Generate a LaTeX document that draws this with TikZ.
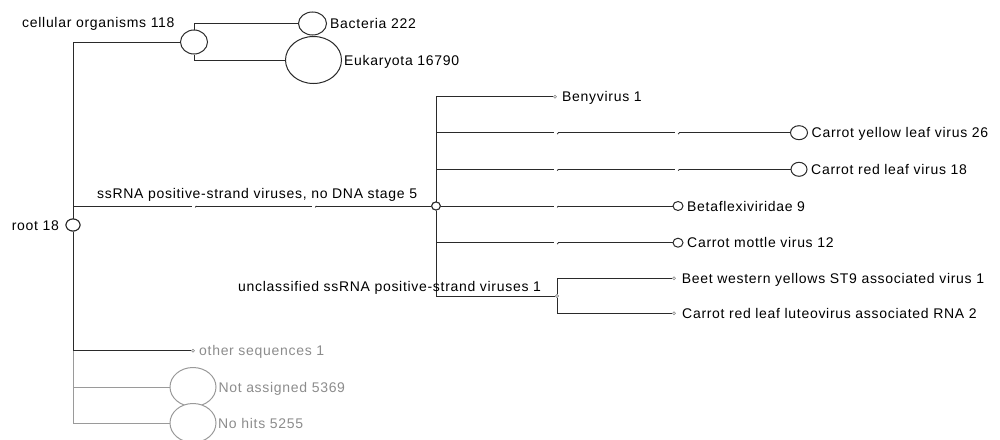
\documentclass[tikz,border=0pt]{standalone}
\usepackage{fontspec}
\setmainfont{Liberation Sans}[LetterSpace=5]
\usetikzlibrary{shapes.geometric}
\definecolor{ln}{HTML}{2A2A2A}
\definecolor{gln}{HTML}{9A9A9A}
\definecolor{gtx}{HTML}{8C8C8C}
\newcommand\lnbreak[2]{%
  \fill[white] (#1-2.2,#2-1.6) rectangle (#1+2.2,#2+1.6);
  \draw[ln,line width=0.8pt] (#1+1.2,#2+1.4) -- (#1+2.4,#2);}
\begin{document}
\begin{tikzpicture}[x=1pt,y=-1pt,
  txt/.style={anchor=base west,inner sep=0pt,font=\fontsize{14}{16}\selectfont},
  gtxt/.style={txt,text=gtx},
  circ/.style={ellipse,draw=ln,line width=1pt,fill=white,inner sep=0pt},
  dotn/.style={circle,draw=gray,line width=0.6pt,fill=white,inner sep=0pt,minimum size=3pt},
  conn/.style={draw=ln,line width=1pt},
  gconn/.style={draw=gln,line width=1pt}]
\useasboundingbox (0,0) rectangle (1000,439);
\clip (0,0) rectangle (1000,439);
% nodes
\node[circ,minimum width=14pt,minimum height=12pt] (root) at (73,225) {};
\node[circ,minimum width=27pt,minimum height=24pt] (cell) at (194,42) {};
\node[circ,minimum width=28pt,minimum height=23pt] (bac) at (312.5,23.5) {};
\node[circ,minimum width=56pt,minimum height=47pt] (euk) at (313.5,60) {};
\node[circ,minimum width=8.6pt,minimum height=8pt] (ss) at (436,206) {};
\node[dotn] (beny) at (555,96.7) {};
\node[circ,minimum width=17pt,minimum height=14pt] (cyl) at (799,132.7) {};
\node[circ,minimum width=16pt,minimum height=14pt] (crl) at (799,169.3) {};
\node[circ,minimum width=10pt,minimum height=9pt] (beta) at (678,206) {};
\node[circ,minimum width=10pt,minimum height=9pt] (cmv) at (678,242.7) {};
\node[dotn] (unc) at (557,296) {};
\node[dotn] (beet) at (674,278.3) {};
\node[dotn] (crlra) at (674,313.3) {};
\node[dotn] (oth) at (193,350.7) {};
\node[circ,draw=gln,minimum width=46pt,minimum height=39pt] (na) at (193,387) {};
\node[circ,draw=gln,minimum width=46pt,minimum height=39pt] (nh) at (193,423) {};
% connectors (gray first)
\draw[gconn] (root) |- (na);
\draw[gconn] (root) |- (nh);
\draw[conn] (root) |- (oth);
\draw[conn] (root) |- (cell);
\draw[conn] (root) |- (ss);
\draw[conn] (cell) |- (bac);
\draw[conn] (cell) |- (euk);
\draw[conn] (ss) |- (beny);
\draw[conn] (ss) |- (cyl);
\draw[conn] (ss) |- (crl);
\draw[conn] (ss) -- (beta);
\draw[conn] (ss) |- (cmv);
\draw[conn] (ss) |- (unc);
\draw[conn] (unc) |- (beet);
\draw[conn] (unc) |- (crlra);
% line breaks
\lnbreak{194}{206}
\lnbreak{314}{206}
\lnbreak{556}{132.7}
\lnbreak{677}{132.7}
\lnbreak{556}{169.3}
\lnbreak{677}{169.3}
\lnbreak{556}{206}
\lnbreak{556}{242.7}
% redraw node outlines on top
\node[circ,minimum width=14pt,minimum height=12pt] at (73,225) {};
\node[circ,minimum width=8.6pt,minimum height=8pt] at (436,206) {};
\node[dotn] at (557,296) {};
% labels
\node[txt] (troot) at (11.7,230) {root 18};
\node[txt] (tcell) at (22,27.5) {cellular organisms 118};
\node[txt] (tbac) at (330,28.5) {Bacteria 222};
\node[txt] (teuk) at (344,65) {Eukaryota 16790};
\node[txt] (tss) at (97,198.3) {ssRNA positive-strand viruses, no DNA stage 5};
\node[txt] (tbeny) at (562,101.7) {Benyvirus 1};
\node[txt] (tcyl) at (811.5,137.7) {Carrot yellow leaf virus 26};
\node[txt] (tcrl) at (811,174.3) {Carrot red leaf virus 18};
\node[txt] (tbeta) at (687,211) {Betaflexiviridae 9};
\node[txt] (tcmv) at (687,247.7) {Carrot mottle virus 12};
\node[txt] (tunc) at (238,291) {unclassified ssRNA positive-strand viruses 1};
\node[txt] (tbeet) at (681.7,283.3) {Beet western yellows ST9 associated virus 1};
\node[txt] (tcrlra) at (682,318.3) {Carrot red leaf luteovirus associated RNA 2};
\node[gtxt] (toth) at (199,355.7) {other sequences 1};
\node[gtxt] (tna) at (218.3,392) {Not assigned 5369};
\node[gtxt] (tnh) at (218,428) {No hits 5255};
\end{tikzpicture}
\end{document}
